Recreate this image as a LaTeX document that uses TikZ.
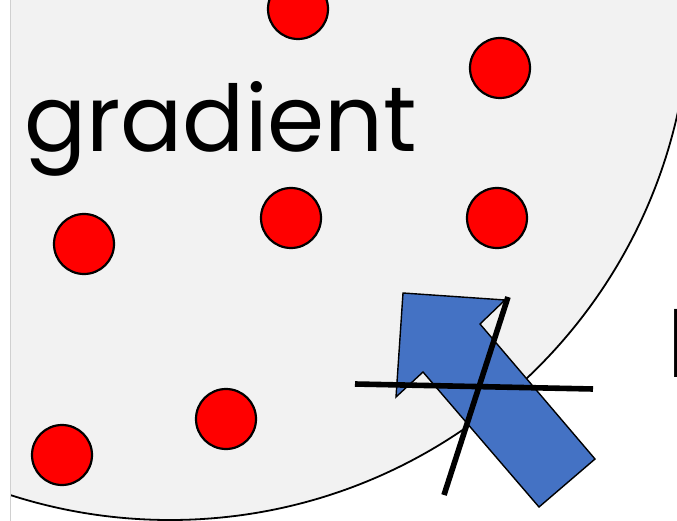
\documentclass[tikz,border=0pt]{standalone}
\usepackage{fontspec}
\setmainfont{Poppins}
\usepackage{xcolor}
\usetikzlibrary{positioning,calc}
\definecolor{discgrey}{HTML}{F2F2F2}
\definecolor{edgegrey}{HTML}{D0D0D0}
\definecolor{dotred}{HTML}{FF0000}
\definecolor{arrowblue}{HTML}{4472C4}
\tikzset{
  disc/.style={draw=black, fill=discgrey, line width=1.8pt},
  dot/.style={circle, draw=black, fill=dotred, line width=2.2pt, minimum size=60pt, inner sep=0pt},
  blockarrow/.style={draw=black, fill=arrowblue, line width=1.4pt, line join=miter},
  strike/.style={draw=black, line width=5.6pt},
  bigword/.style={font=\fontsize{92}{92}\selectfont, inner sep=0pt, text=black},
}

\begin{document}
\begin{tikzpicture}[x=1pt, y=-1pt]
  \useasboundingbox (0,0) rectangle (677,521);
  % the big disc, cut at the left edge
  \begin{scope}
    \clip (10.5,0) rectangle (677,521);
    \draw[disc] (170,0) circle[radius=520];
  \end{scope}
  \draw[edgegrey, line width=0.8pt] (10.5,0) -- (10.5,521);
  % label
  \node[bigword, anchor=base west] (word) at (24,152) {gradient};
  \node[bigword, anchor=base west] (cut) at (667,377) {l};
  % red points
  \node[dot] (p1) at (298,9) {};
  \node[dot] (p2) at (500,68) {};
  \node[dot] (p3) at (84,244) {};
  \node[dot] (p4) at (291,218) {};
  \node[dot] (p5) at (497,218) {};
  \node[dot] (p6) at (226,419) {};
  \node[dot] (p7) at (62,455) {};
  % blue arrow
  \draw[blockarrow] (403,293) -- (505,300) -- (480,324) -- (595,459)
    -- (539,507) -- (423,372) -- (396,397) -- cycle;
  % crossing strokes
  \coordinate (h1) at (355,384);
  \coordinate (h2) at (593,389);
  \coordinate (d1) at (508,297);
  \coordinate (d2) at (444,495);
  \draw[strike] (h1) -- (h2);
  \draw[strike] (d1) -- (d2);
\end{tikzpicture}
\end{document}
